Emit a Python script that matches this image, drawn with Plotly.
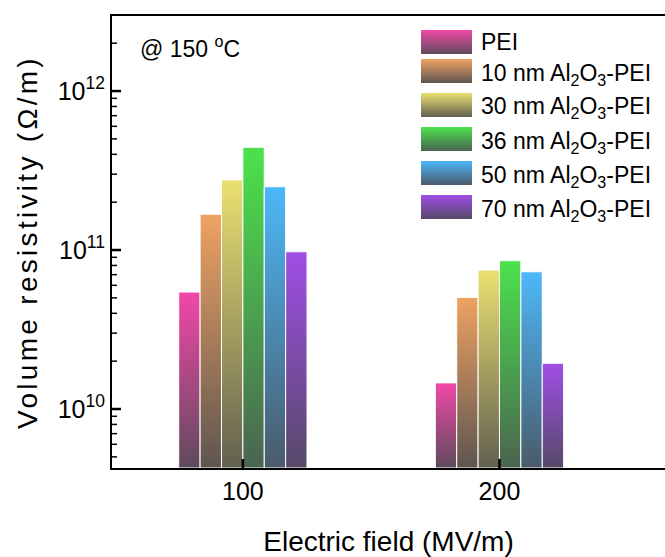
import plotly.graph_objects as go
import base64
import math

fields = [100, 200]
series = ["PEI",
          "10 nm Al<sub>2</sub>O<sub>3</sub>-PEI",
          "30 nm Al<sub>2</sub>O<sub>3</sub>-PEI",
          "36 nm Al<sub>2</sub>O<sub>3</sub>-PEI",
          "50 nm Al<sub>2</sub>O<sub>3</sub>-PEI",
          "70 nm Al<sub>2</sub>O<sub>3</sub>-PEI"]
pei      = [5.44e10, 1.46e10]
al_10nm  = [1.68e11, 5.04e10]
al_30nm  = [2.76e11, 7.48e10]
al_36nm  = [4.43e11, 8.57e10]
al_50nm  = [2.50e11, 7.30e10]
al_70nm  = [9.75e10, 1.94e10]
values = [pei, al_10nm, al_30nm, al_36nm, al_50nm, al_70nm]

major_ticks = [1e10, 1e11, 1e12]
major_labels = ["10<sup>10</sup>", "10<sup>11</sup>", "10<sup>12</sup>"]

top_colors = ["#F248A8", "#EEA262", "#EAE070", "#4CE24C", "#4CB8F8", "#A04EE6"]
bot_colors = ["#5E4A5C", "#5E5550", "#626050", "#4A6450", "#4A5A6A", "#564A68"]

y_lo, y_hi = 9.629, 12.472
x_lo, x_hi = 49, 264.5
group_width = 50.0
bar_w = group_width / len(series)
y_base = 10 ** y_lo

W, H = 665, 557
ML, MR, MT, MB = 112, 0, 16, 89
PW, PH = W - ML - MR, H - MT - MB
x_per_px = (x_hi - x_lo) / PW
dec_per_px = (y_hi - y_lo) / PH

def px2paper(px, py):
    return (px - ML) / PW, 1 - (py - MT) / PH

fig = go.Figure()
for i, (name, vals) in enumerate(zip(series, values)):
    for j, f in enumerate(fields):
        x0 = f - group_width / 2 + i * bar_w
        x1 = x0 + bar_w
        v = vals[j]
        fig.add_trace(go.Scatter(
            x=[x0, x1, x1, x0, x0],
            y=[y_base, y_base, v, v, y_base],
            mode="lines",
            fill="toself",
            line=dict(color="white", width=1),
            fillgradient=dict(type="vertical",
                              colorscale=[[0, bot_colors[i]], [1, top_colors[i]]]),
            name=name,
            showlegend=False,
            hoverinfo="skip",
        ))

# inward tick marks (drawn as line traces on top of the bars)
def tick_trace(xs, ys, width):
    fig.add_trace(go.Scatter(x=xs, y=ys, mode="lines", line=dict(color="black", width=width),
                             showlegend=False, hoverinfo="skip", cliponaxis=False))

minor_vals = [k * 10 ** e for e in range(9, 13) for k in range(2, 10)
              if y_lo <= math.log10(k * 10 ** e) <= y_hi]
xs, ys = [], []
for v in minor_vals:
    xs += [x_lo, x_lo + 5 * x_per_px, None]
    ys += [v, v, None]
tick_trace(xs, ys, 1.5)
xs, ys = [], []
for v in major_ticks:
    xs += [x_lo, x_lo + 9 * x_per_px, None]
    ys += [v, v, None]
for f in fields:
    xs += [f, f, None]
    ys += [y_base, 10 ** (y_lo + 9 * dec_per_px), None]
tick_trace(xs, ys, 2.5)

# custom legend with gradient swatches
images, annotations = [], []
row_centers = [42, 71, 105, 139, 173, 207]
sw_x0, sw_w, sw_h = 421, 51, 24
for i, name in enumerate(series):
    svg = ('<svg xmlns="http://www.w3.org/2000/svg" width="%d" height="%d" preserveAspectRatio="none">'
           '<defs><linearGradient id="g" x1="0" y1="0" x2="0" y2="1">'
           '<stop offset="0" stop-color="%s"/><stop offset="1" stop-color="%s"/>'
           '</linearGradient></defs><rect width="%d" height="%d" fill="url(#g)"/></svg>'
           % (sw_w, sw_h, top_colors[i], bot_colors[i], sw_w, sw_h))
    src = "data:image/svg+xml;base64," + base64.b64encode(svg.encode()).decode()
    xp, yp = px2paper(sw_x0, row_centers[i] - sw_h / 2)
    images.append(dict(source=src, xref="paper", yref="paper", x=xp, y=yp,
                       sizex=sw_w / PW, sizey=sw_h / PH, sizing="stretch",
                       xanchor="left", yanchor="top", layer="above"))
    tx, ty = px2paper(479, row_centers[i] + (3 if i > 0 else 0))
    annotations.append(dict(text=name, x=tx, y=ty, xref="paper", yref="paper",
                            xanchor="left", yanchor="middle", showarrow=False,
                            font=dict(size=23)))

ax, ay = px2paper(138, 47)
annotations.append(dict(text="@ 150 <sup>o</sup>C", x=ax, y=ay, xref="paper", yref="paper",
                        xanchor="left", yanchor="middle", showarrow=False, font=dict(size=23)))

font_family = "Liberation Sans, Arial, sans-serif"
fig.update_layout(
    width=W, height=H,
    margin=dict(l=ML, r=MR, t=MT, b=MB),
    plot_bgcolor="white", paper_bgcolor="white",
    font=dict(family=font_family, size=22, color="black"),
    showlegend=False,
    images=images,
    annotations=annotations,
    xaxis=dict(range=[x_lo, x_hi], tickvals=fields, ticktext=[str(f) for f in fields],
               ticks="", showline=True, linecolor="black", linewidth=2, mirror=True,
               showgrid=False, zeroline=False, automargin=False,
               tickfont=dict(size=25),
               title=dict(text="Electric field (MV/m)", font=dict(size=28), standoff=28)),
    yaxis=dict(type="log", range=[y_lo, y_hi],
               tickmode="array", tickvals=major_ticks, ticktext=major_labels,
               ticks="", showline=True, linecolor="black", linewidth=2, mirror=False,
               showgrid=False, zeroline=False, automargin=False,
               tickfont=dict(size=25),
               title=dict(text='<span style="letter-spacing:3.3px">Volume resistivity (Ω/m)</span>',
                          font=dict(size=28), standoff=12)),
)

fig.write_html("out.html")
